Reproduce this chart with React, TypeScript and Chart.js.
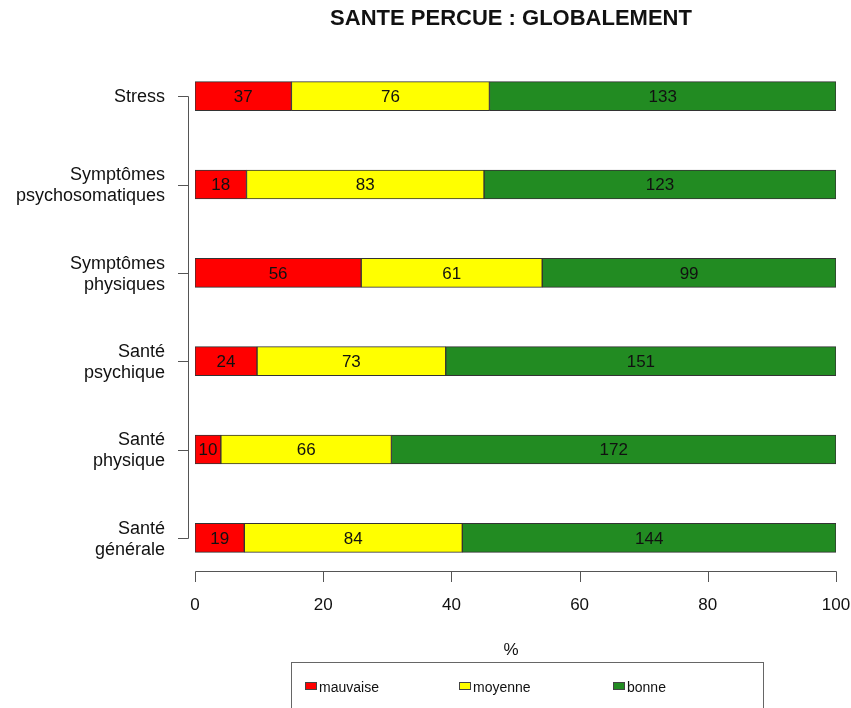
import React, { useEffect, useRef } from "react";
import { Chart, registerables } from "chart.js";

Chart.register(...registerables);

const title = "SANTE PERCUE : GLOBALEMENT";
const categories: string[][] = [
  ["Stress"],
  ["Symptômes", "psychosomatiques"],
  ["Symptômes", "physiques"],
  ["Santé", "psychique"],
  ["Santé", "physique"],
  ["Santé", "générale"],
];
const seriesNames = ["mauvaise", "moyenne", "bonne"];
const mauvaise = [37, 18, 56, 24, 10, 19];
const moyenne = [76, 83, 61, 73, 66, 84];
const bonne = [133, 123, 99, 151, 172, 144];
const seriesColors = ["#FF0000", "#FFFF00", "#228B22"];
const xTicks = [0, 20, 40, 60, 80, 100];
const xAxisTitle = "%";

const FONT = "'Liberation Sans', Arial, sans-serif";

export default function App() {
  const ref = useRef<HTMLCanvasElement | null>(null);

  useEffect(() => {
    const canvas = ref.current;
    if (!canvas) return;
    const counts = [mauvaise, moyenne, bonne];
    const totals = categories.map((_, i) => counts.reduce((s, arr) => s + arr[i], 0));
    const datasets = counts.map((arr, k) => ({
      label: seriesNames[k],
      data: arr.map((v, i) => (v / totals[i]) * 100),
      counts: arr,
      backgroundColor: seriesColors[k],
      borderColor: "#333333",
      borderWidth: 1,
      borderSkipped: false,
      barThickness: 29,
    }));

    const drawPlugin = {
      id: "rstyle",
      afterDatasetsDraw(chart: any) {
        const ctx = chart.ctx;
        const xs = chart.scales.x;
        const ys = chart.scales.y;
        ctx.save();
        // value labels
        ctx.fillStyle = "#111";
        ctx.font = `17px ${FONT}`;
        ctx.textAlign = "center";
        ctx.textBaseline = "middle";
        chart.data.datasets.forEach((ds: any, di: number) => {
          const meta = chart.getDatasetMeta(di);
          meta.data.forEach((bar: any, i: number) => {
            const cx = (bar.x + bar.base) / 2;
            ctx.fillText(String(ds.counts[i]), cx, bar.y + 1);
          });
        });
        // x axis
        const axisY = 571;
        ctx.strokeStyle = "#555";
        ctx.lineWidth = 1;
        ctx.beginPath();
        ctx.moveTo(Math.round(xs.getPixelForValue(xTicks[0])) + 0.5, axisY + 0.5);
        ctx.lineTo(Math.round(xs.getPixelForValue(xTicks[xTicks.length - 1])) + 0.5, axisY + 0.5);
        xTicks.forEach((t) => {
          const px = Math.round(xs.getPixelForValue(t)) + 0.5;
          ctx.moveTo(px, axisY + 0.5);
          ctx.lineTo(px, axisY + 11);
        });
        ctx.stroke();
        ctx.font = `17px ${FONT}`;
        xTicks.forEach((t) => {
          ctx.fillText(String(t), xs.getPixelForValue(t), 605);
        });
        // x axis title
        ctx.fillText(xAxisTitle, 511, 650);
        // y axis
        const axisX = 188;
        const y0 = ys.getPixelForValue(0);
        const y1 = ys.getPixelForValue(categories.length - 1);
        ctx.beginPath();
        ctx.moveTo(axisX + 0.5, Math.round(y0) + 0.5);
        ctx.lineTo(axisX + 0.5, Math.round(y1) + 0.5);
        categories.forEach((_, i) => {
          const py = Math.round(ys.getPixelForValue(i)) + 0.5;
          ctx.moveTo(axisX + 0.5, py);
          ctx.lineTo(axisX - 10, py);
        });
        ctx.stroke();
        ctx.textAlign = "right";
        ctx.font = `18px ${FONT}`;
        categories.forEach((lines, i) => {
          const py = ys.getPixelForValue(i);
          if (lines.length === 1) {
            ctx.fillText(lines[0], 165, py + 1);
          } else {
            ctx.fillText(lines[0], 165, py - 9);
            ctx.fillText(lines[1], 165, py + 12);
          }
        });
        // title
        ctx.textAlign = "center";
        ctx.font = `bold 22px ${FONT}`;
        ctx.fillText(title, 511, 19);
        // legend box
        ctx.strokeStyle = "#666";
        ctx.strokeRect(291.5, 662.5, 472, 60);
        const legendX = [305, 459, 613];
        ctx.font = `14px ${FONT}`;
        ctx.textAlign = "left";
        seriesNames.forEach((name, k) => {
          ctx.fillStyle = seriesColors[k];
          ctx.fillRect(legendX[k], 682, 12, 8);
          ctx.strokeStyle = "#444";
          ctx.strokeRect(legendX[k] + 0.5, 682.5, 11, 7);
          ctx.fillStyle = "#111";
          ctx.fillText(name, legendX[k] + 14, 688);
        });
        ctx.restore();
      },
    };

    const chart = new Chart(canvas, {
      type: "bar",
      data: { labels: categories.map((c) => c.join(" ")), datasets: datasets as any },
      options: {
        indexAxis: "y",
        animation: false,
        responsive: false,
        maintainAspectRatio: false,
        layout: { padding: { left: 195, right: 15, top: 52, bottom: 126 } },
        plugins: { legend: { display: false }, tooltip: { enabled: false }, title: { display: false } },
        scales: {
          x: { stacked: true, min: 0, max: 100, display: false },
          y: { stacked: true, display: false },
        },
      },
      plugins: [drawPlugin],
    });
    return () => chart.destroy();
  }, []);

  return (
    <div style={{ position: "absolute", left: 0, top: 0, width: 851, height: 708, background: "#fff" }}>
      <canvas ref={ref} width={851} height={708} style={{ width: 851, height: 708 }} />
    </div>
  );
}
